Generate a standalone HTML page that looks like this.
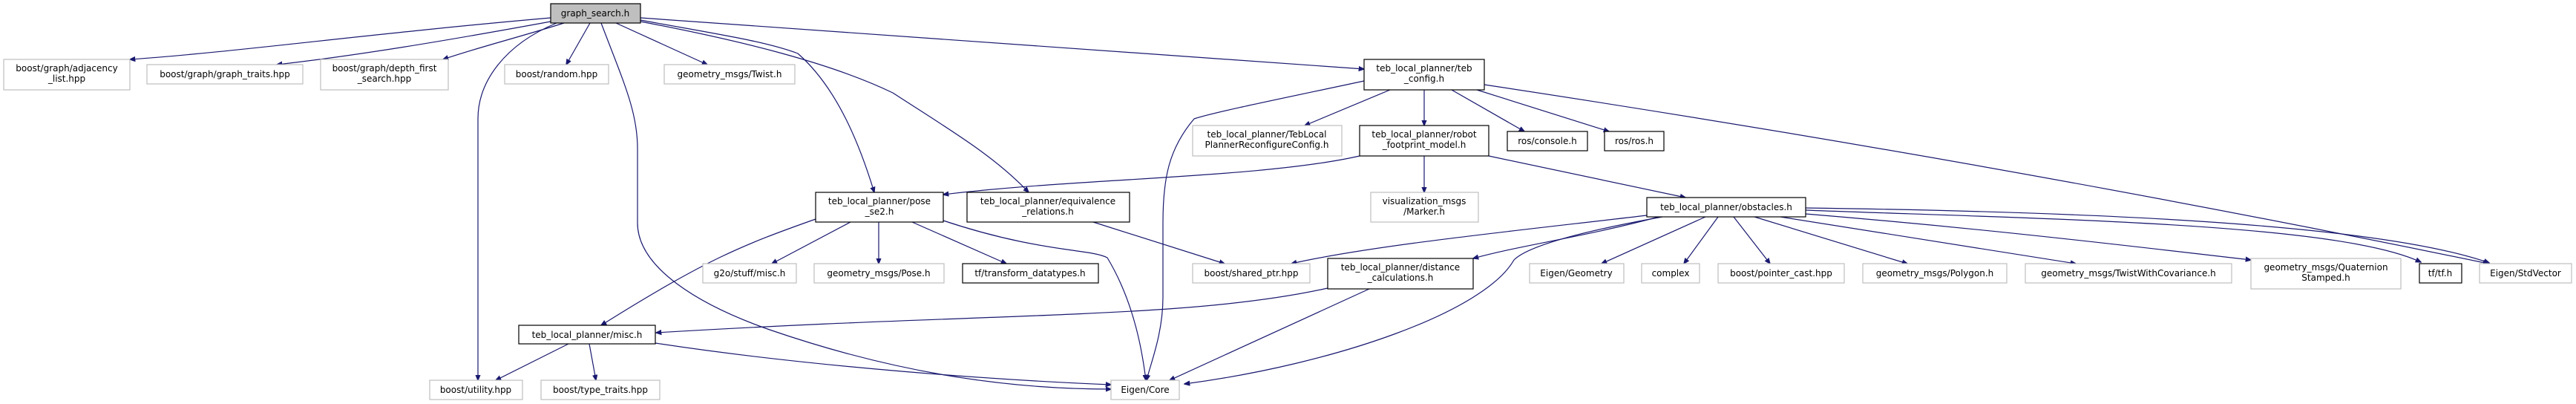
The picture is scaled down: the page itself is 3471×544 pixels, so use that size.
<!DOCTYPE html>
<html><head><meta charset="utf-8"><style>
html,body{margin:0;padding:0;background:#fff;}
svg{display:block;}
text{font-family:"DejaVu Sans","Liberation Sans",sans-serif;font-size:12px;fill:#000;text-anchor:middle;}
.g{fill:#fff;stroke:#bfbfbf;stroke-width:1.2;}
.b{fill:#fff;stroke:#000;stroke-width:1.2;}
.e{fill:none;stroke:#191970;stroke-width:1.2;marker-end:url(#a);}
</style></head><body>
<svg width="3471" height="544" viewBox="0 0 3471 544" xmlns="http://www.w3.org/2000/svg">
<defs><marker id="a" viewBox="0 0 10 10" refX="9" refY="5" markerWidth="8" markerHeight="8" markerUnits="userSpaceOnUse" orient="auto"><path d="M0,1 L10,5 L0,9 z" fill="#191970" stroke="#191970"/></marker></defs>

<!-- edges -->
<path class="e" d="M742,24 C500,45 320,70 175,80"/>
<path class="e" d="M742,29 C600,55 480,75 373,87"/>
<path class="e" d="M760,31 C700,50 640,65 597,80"/>
<path class="e" d="M795,31 L763,87"/>
<path class="e" d="M830,31 L953,87"/>
<path class="e" d="M750,31 C680,60 644,110 644,160 L644,512"/>
<path class="e" d="M810,31 C840,110 859,150 859,200 L859,300 C859,360 940,410 1037,444 C1200,500 1350,524 1497,524"/>
<path class="e" d="M863,24 L1838,93"/>
<path class="e" d="M863,27 C960,45 1030,55 1075,72 C1130,120 1160,200 1178,259"/>
<path class="e" d="M863,29 C1000,55 1120,85 1203,125 C1280,175 1340,210 1386,259"/>
<path class="e" d="M1838,109 C1740,130 1640,150 1609,160 C1575,200 1567,240 1567,300 L1567,400 C1567,450 1550,490 1545,512"/>
<path class="e" d="M1873,121 L1758,169"/>
<path class="e" d="M1919,121 L1919,169"/>
<path class="e" d="M1956,121 L2054,177"/>
<path class="e" d="M1990,121 L2168,177"/>
<path class="e" d="M2000,114 Q2700,220 3353,355"/>
<path class="e" d="M1832,210 C1700,240 1450,240 1271,262"/>
<path class="e" d="M1919,210 L1919,259"/>
<path class="e" d="M2006,210 L2271,266"/>
<path class="e" d="M1099,295 C1000,330 950,350 810,438"/>
<path class="e" d="M1146,299 L1040,355"/>
<path class="e" d="M1184,299 L1184,355"/>
<path class="e" d="M1229,299 L1356,355"/>
<path class="e" d="M1271,297 C1400,340 1470,335 1492,347 C1530,410 1540,480 1544,512"/>
<path class="e" d="M1473,299 L1650,355"/>
<path class="e" d="M2219,290 C2050,310 1850,330 1740,355"/>
<path class="e" d="M2235,292 C2130,320 2050,330 1985,348"/>
<path class="e" d="M2240,292 C2140,310 2060,330 2040,350 C2000,420 1800,490 1596,517"/>
<path class="e" d="M2298,292 L2158,355"/>
<path class="e" d="M2315,292 L2269,355"/>
<path class="e" d="M2336,292 L2385,355"/>
<path class="e" d="M2364,292 L2570,355"/>
<path class="e" d="M2399,292 L2797,355"/>
<path class="e" d="M2433,288 C2700,310 2900,335 3033,350"/>
<path class="e" d="M2433,283 C2750,295 3150,300 3262,353"/>
<path class="e" d="M2433,280 C2800,285 3200,300 3354,354"/>
<path class="e" d="M1789,388 C1600,430 1350,420 884,448"/>
<path class="e" d="M1845,389 L1576,512"/>
<path class="e" d="M766,463 L668,512"/>
<path class="e" d="M794,463 L803,512"/>
<path class="e" d="M883,462 C1100,495 1350,512 1497,518"/>

<!-- nodes -->
<rect x="742" y="5" width="121" height="26" fill="#bfbfbf" stroke="#000" stroke-width="1.2"/><text x="802" y="22">graph_search.h</text>

<rect class="g" x="5" y="80" width="170" height="41"/><text x="90" y="96">boost/graph/adjacency</text><text x="90" y="110">_list.hpp</text>
<rect class="g" x="198" y="87" width="210" height="26"/><text x="303" y="104">boost/graph/graph_traits.hpp</text>
<rect class="g" x="432" y="80" width="172" height="41"/><text x="518" y="96">boost/graph/depth_first</text><text x="518" y="110">_search.hpp</text>
<rect class="g" x="680" y="87" width="140" height="26"/><text x="750" y="104">boost/random.hpp</text>
<rect class="g" x="895" y="87" width="176" height="26"/><text x="983" y="104">geometry_msgs/Twist.h</text>
<rect class="b" x="1838" y="80" width="162" height="41"/><text x="1919" y="96">teb_local_planner/teb</text><text x="1919" y="110">_config.h</text>

<rect class="g" x="1607" y="169" width="201" height="41"/><text x="1707" y="185">teb_local_planner/TebLocal</text><text x="1707" y="199">PlannerReconfigureConfig.h</text>
<rect class="b" x="1832" y="169" width="174" height="41"/><text x="1919" y="185">teb_local_planner/robot</text><text x="1919" y="199">_footprint_model.h</text>
<rect class="b" x="2031" y="177" width="108" height="26"/><text x="2085" y="194">ros/console.h</text>
<rect class="b" x="2162" y="177" width="80" height="26"/><text x="2202" y="194">ros/ros.h</text>

<rect class="b" x="1099" y="259" width="172" height="40"/><text x="1185" y="275">teb_local_planner/pose</text><text x="1185" y="289">_se2.h</text>
<rect class="b" x="1303" y="259" width="219" height="40"/><text x="1412" y="275">teb_local_planner/equivalence</text><text x="1412" y="289">_relations.h</text>
<rect class="g" x="1847" y="259" width="145" height="40"/><text x="1919" y="275">visualization_msgs</text><text x="1919" y="289">/Marker.h</text>
<rect class="b" x="2219" y="266" width="214" height="26"/><text x="2326" y="283">teb_local_planner/obstacles.h</text>

<rect class="g" x="947" y="355" width="126" height="26"/><text x="1010" y="372">g2o/stuff/misc.h</text>
<rect class="g" x="1097" y="355" width="175" height="26"/><text x="1184" y="372">geometry_msgs/Pose.h</text>
<rect class="b" x="1297" y="355" width="183" height="26"/><text x="1388" y="372">tf/transform_datatypes.h</text>
<rect class="g" x="1607" y="355" width="158" height="26"/><text x="1686" y="372">boost/shared_ptr.hpp</text>
<rect class="b" x="1789" y="348" width="196" height="41"/><text x="1887" y="364">teb_local_planner/distance</text><text x="1887" y="378">_calculations.h</text>
<rect class="g" x="2061" y="355" width="127" height="26"/><text x="2124" y="372">Eigen/Geometry</text>
<rect class="g" x="2212" y="355" width="78" height="26"/><text x="2251" y="372">complex</text>
<rect class="g" x="2315" y="355" width="170" height="26"/><text x="2400" y="372">boost/pointer_cast.hpp</text>
<rect class="g" x="2510" y="355" width="194" height="26"/><text x="2607" y="372">geometry_msgs/Polygon.h</text>
<rect class="g" x="2729" y="355" width="278" height="26"/><text x="2868" y="372">geometry_msgs/TwistWithCovariance.h</text>
<rect class="g" x="3033" y="348" width="202" height="41"/><text x="3134" y="364">geometry_msgs/Quaternion</text><text x="3134" y="378">Stamped.h</text>
<rect class="b" x="3260" y="355" width="57" height="26"/><text x="3288" y="372">tf/tf.h</text>
<rect class="g" x="3341" y="355" width="124" height="26"/><text x="3403" y="372">Eigen/StdVector</text>

<rect class="b" x="699" y="438" width="184" height="25"/><text x="791" y="455">teb_local_planner/misc.h</text>

<rect class="g" x="579" y="512" width="125" height="26"/><text x="641" y="529">boost/utility.hpp</text>
<rect class="g" x="729" y="512" width="160" height="26"/><text x="809" y="529">boost/type_traits.hpp</text>
<rect class="g" x="1497" y="512" width="92" height="26"/><text x="1543" y="529">Eigen/Core</text>
</svg>
</body></html>
